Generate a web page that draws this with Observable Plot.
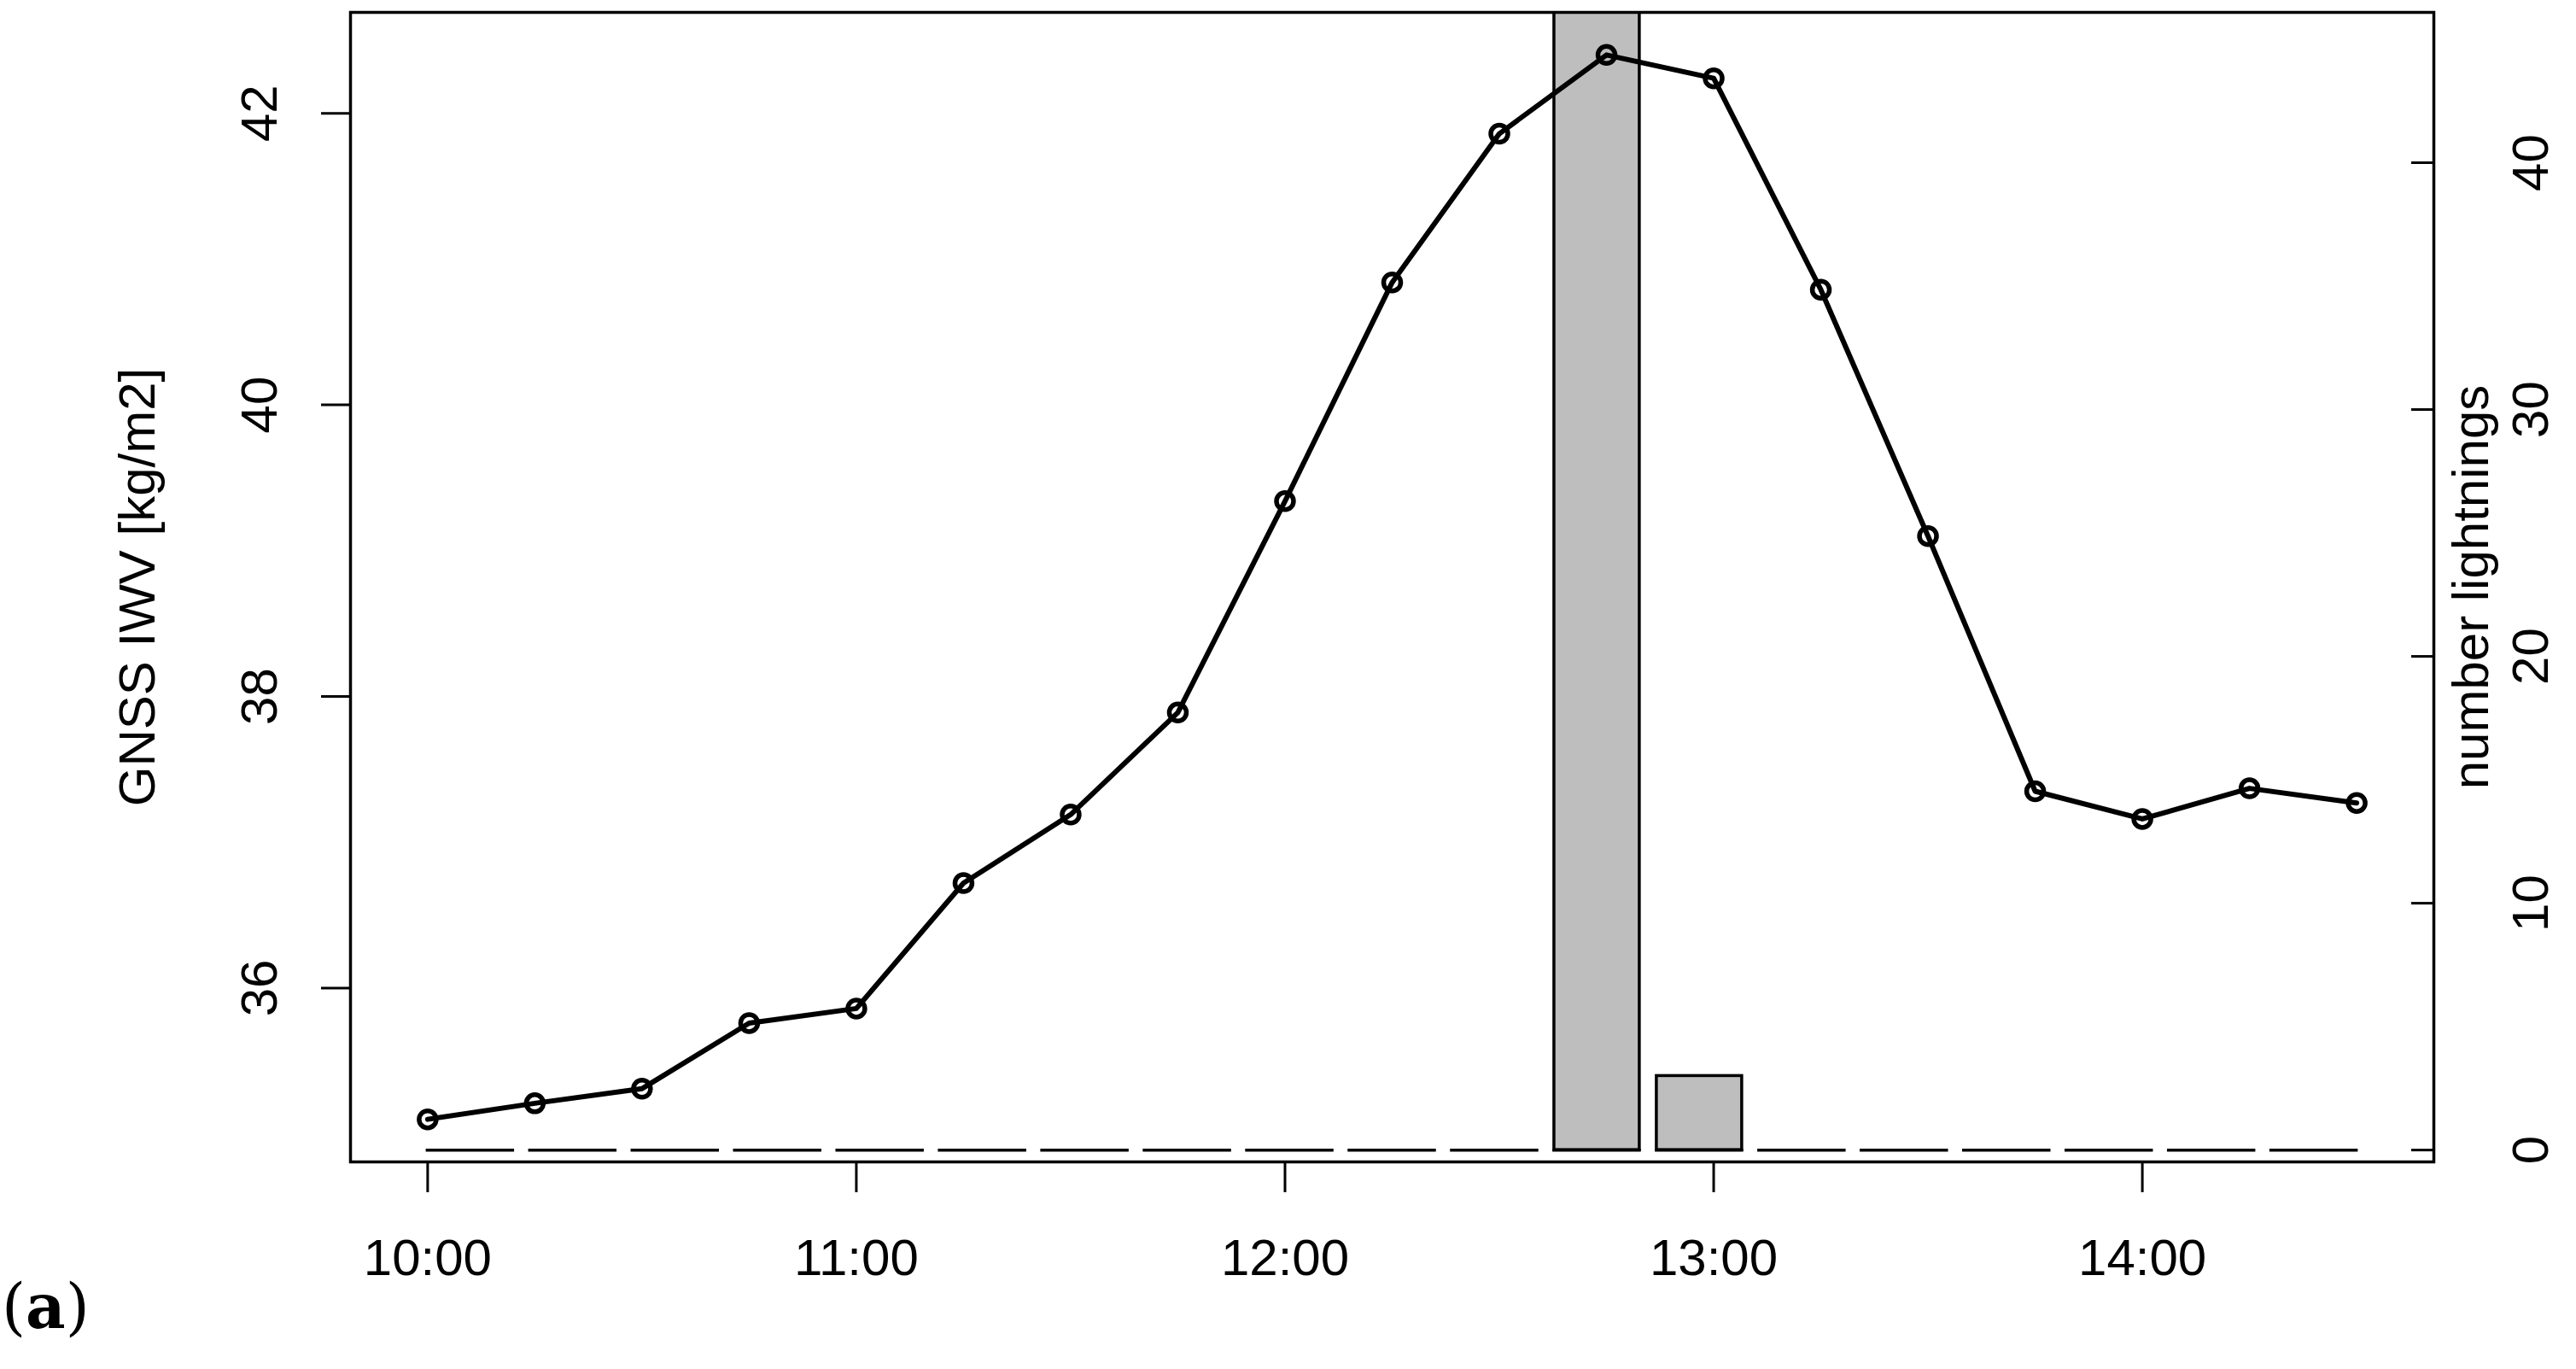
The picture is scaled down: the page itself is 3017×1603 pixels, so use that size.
<!DOCTYPE html>
<html>
<head>
<meta charset="utf-8">
<script src="https://cdn.jsdelivr.net/npm/d3@7"></script>
<script src="https://cdn.jsdelivr.net/npm/@observablehq/plot@0.6"></script>
<style>
  html, body { margin: 0; padding: 0; background: #fff; overflow: hidden; }
  #wrap { position: relative; width: 3017px; height: 1603px; background: #fff; }
  #wrap svg { position: absolute; left: 0; top: 0; }
  #tag { position: absolute; left: 2px; top: 1494px; font-family: "DejaVu Serif", serif; font-size: 72px; line-height: 1; color: #000; }
</style>
</head>
<body>
<div id="wrap"><div id="tag">(<b>a</b>)</div></div>
<script>
// ---- data ----
const times = ["10:00","10:15","10:30","10:45","11:00","11:15","11:30","11:45","12:00","12:15",
               "12:30","12:45","13:00","13:15","13:30","13:45","14:00","14:15","14:30"];
const iwv = [35.10,35.21,35.31,35.76,35.86,36.72,37.19,37.89,39.34,40.84,
             41.86,42.40,42.24,40.79,39.10,37.35,37.16,37.37,37.27];
const lightning = [0,0,0,0,0,0,0,0,0,0,0,47,3,0,0,0,0,0,0];
const xTickLabels = ["10:00","11:00","12:00","13:00","14:00"];
const leftTicks = [36,38,40,42];
const rightTicks = [0,10,20,30,40];
const leftTitle = "GNSS IWV [kg/m2]";
const rightTitle = "number lightnings";

// ---- helpers ----
const toHours = s => { const [h, m] = s.split(":").map(Number); return h + m / 60; };
const fmtHM = h => { const H = Math.floor(h + 1e-9); const M = Math.round((h - H) * 60); return H + ":" + String(M).padStart(2, "0"); };

const W = 3017, H = 1603;
const margins = { marginLeft: 410, marginRight: 167, marginTop: 14, marginBottom: 243 };
const font = "'Liberation Sans', Arial, sans-serif";
const FS = 60;

const lineData = times.map((t, i) => ({ h: toHours(t), v: iwv[i] }));
const xTicks = xTickLabels.map(toHours);

// R-style 4% padding
const hMin = d3.min(lineData, d => d.h), hMax = d3.max(lineData, d => d.h);
const vMin = d3.min(iwv), vMax = d3.max(iwv);
const xPad = 0.04 * (hMax - hMin), yPad = 0.04 * (vMax - vMin);

// barplot layout (space = 0.2, width = 1)
const space = 0.2;
const bars = times.map((t, i) => ({ bin: t, count: lightning[i], x1: space + i * (1 + space), x2: space + i * (1 + space) + 1 }));
const bLo = space, bHi = times.length * (1 + space);
const bPad = 0.04 * (bHi - bLo);

// ---- bar layer (right axis) ----
const barPlot = Plot.plot({
  width: W, height: H, ...margins,
  style: { background: "transparent", fontFamily: font, fontSize: FS + "px", color: "#000" },
  x: { domain: [bLo - bPad, bHi + bPad], axis: null },
  y: { domain: [-0.48, 46.09] },
  marks: [
    Plot.rect(bars, { x1: "x1", x2: "x2", y1: 0, y2: "count", fill: "#bebebe", stroke: "#000", strokeWidth: 3.5, clip: true }),
    Plot.ruleY(bars, { x1: "x1", x2: "x2", y: 0, stroke: "#000", strokeWidth: 3.5, strokeLinecap: "square" }),
    Plot.axisY({ anchor: "right", ticks: rightTicks, tickSize: 27, insetRight: 27, tickFormat: () => "", strokeWidth: 3, label: null }),
    Plot.text(rightTicks, { y: d => d, text: d => String(d), frameAnchor: "right", textAnchor: "middle", dx: 114, rotate: -90, fontSize: FS, lineAnchor: "middle" }),
    Plot.text([rightTitle], { text: d => d, frameAnchor: "right", textAnchor: "middle", dx: 44, rotate: -90, fontSize: FS, lineAnchor: "middle" })
  ]
});

// ---- line layer (left axis, time axis) ----
const linePlot = Plot.plot({
  width: W, height: H, ...margins,
  style: { background: "transparent", fontFamily: font, fontSize: FS + "px", color: "#000" },
  x: { domain: [hMin - xPad, hMax + xPad] },
  y: { domain: [vMin - yPad, vMax + yPad] },
  marks: [
    Plot.frame({ stroke: "#000", strokeWidth: 3.5 }),
    Plot.line(lineData, { x: "h", y: "v", stroke: "#000", strokeWidth: 6 }),
    Plot.dot(lineData, { x: "h", y: "v", r: 10, stroke: "#000", strokeWidth: 5.5, fill: "none" }),
    Plot.axisX({ ticks: xTicks, tickSize: 36, tickPadding: 54, tickFormat: fmtHM, fontSize: FS, strokeWidth: 3, label: null }),
    Plot.axisY({ anchor: "left", ticks: leftTicks, tickSize: 34, tickFormat: () => "", strokeWidth: 3, label: null }),
    Plot.text(leftTicks, { y: d => d, text: d => String(d), frameAnchor: "left", textAnchor: "middle", dx: -106, rotate: -90, fontSize: FS, lineAnchor: "middle" }),
    Plot.text([leftTitle], { text: d => d, frameAnchor: "left", textAnchor: "middle", dx: -249, rotate: -90, fontSize: FS, lineAnchor: "middle" })
  ]
});

const wrap = document.getElementById("wrap");
wrap.appendChild(barPlot);
wrap.appendChild(linePlot);
</script>
</body>
</html>
